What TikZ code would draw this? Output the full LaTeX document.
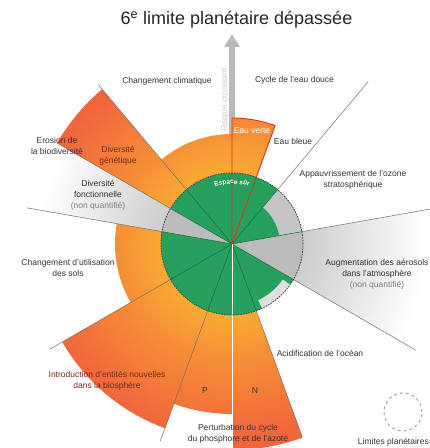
\documentclass[tikz,border=0pt]{standalone}
\usepackage{fontspec}
\setmainfont{Liberation Sans}
\usetikzlibrary{arrows.meta,calc,decorations.text}

\definecolor{pbgruen}{RGB}{38,160,92}
\definecolor{pbdunkelgruen}{RGB}{22,105,58}
\definecolor{pborange}{RGB}{249,170,52}
\definecolor{pbmitte}{RGB}{246,140,55}
\definecolor{pbrot}{RGB}{241,100,60}
\definecolor{pbrand}{RGB}{214,55,30}
\definecolor{pbgrau}{RGB}{188,188,188}
\definecolor{pbhellgrau}{RGB}{205,205,205}
\definecolor{pbtext}{RGB}{50,50,50}
\definecolor{pbbraun}{RGB}{115,40,25}
\definecolor{pbstrahl}{RGB}{125,108,98}

\pgfdeclareradialshading{pbverlauf}{\pgfpoint{0bp}{0bp}}{color(0bp)=(pborange); color(8bp)=(pborange); color(13.6bp)=(pbmitte); color(22.7bp)=(pbrot); color(50bp)=(pbrot)}
\pgfdeclareradialshading{pbgrauverlauf}{\pgfpoint{0bp}{0bp}}{color(0bp)=(pbhellgrau); color(8bp)=(pbhellgrau); color(22bp)=(white); color(50bp)=(white)}

% Keil um den Mittelpunkt C: Startwinkel, Endwinkel, Radius
\newcommand{\sektor}[3]{(C) -- ++(#1:#3) arc[start angle=#1, end angle=#2, radius=#3] -- cycle}

\begin{document}
\begin{tikzpicture}[x=1pt,y=1pt,
  beschriftung/.style={font=\fontsize{8.5}{11}\selectfont, text=pbtext, align=center, inner sep=0pt},
  strahl/.style={draw=pbstrahl, line width=0.5pt}]
\useasboundingbox (0,0) rectangle (430,448);
\clip (0,0) rectangle (430,448);
\coordinate (C) at (232,204);

% Titel
\node[font=\fontsize{18}{20}\selectfont, text=black!85] (titel) at (236.5,428) {6\textsuperscript{e} limite planétaire dépassée};

% Pfeil: Risque croissant
\draw[line width=6pt, gray!55, -{Triangle[width=15pt,length=13pt]}] (C) -- (232,414);
\node[beschriftung, text=gray!45, rotate=90] (risque) at (225,348) {Risque croissant};

% nicht quantifizierte Bereiche (grauer Verlauf)
\begin{scope}
\clip \sektor{150}{170}{210} \sektor{-30}{10}{215};
\shade[shading=pbgrauverlauf] (C) circle (220);
\end{scope}

% Keile ausserhalb der Grenze
\begin{scope}
\clip \sektor{90}{130}{110} \sektor{130}{150}{202} \sektor{170}{210}{117}
      \sektor{210}{250}{196} \sektor{250}{270}{170} \sektor{270}{290}{206}
      \sektor{70}{90}{126};
\shade[shading=pbverlauf] (C) circle (220);
\end{scope}

% sicherer Bereich
\fill[pbgruen] (C) circle (71);
\fill[pbgrau] \sektor{150}{170}{71};
\fill[pbgrau] \sektor{-30}{10}{71};
\fill[pbgrau!85] (C) ++(10:48) arc[start angle=10, end angle=50, radius=48] -- ++(50:23)
  arc[start angle=50, end angle=10, radius=71] -- cycle;
\fill[gray!25] (C) ++(-65:62) arc[start angle=-65, end angle=-35, radius=62] -- ++(-35:9)
  arc[start angle=-35, end angle=-65, radius=71] -- cycle;

% Strahlen innen
\foreach \w in {10,50,130,150,170,210,250,290,330}
  \draw[pbdunkelgruen, line width=0.5pt] (C) -- ++(\w:71);
\draw[white, line width=0.6pt] (C) -- ++(270:206);
\draw[pbrand, line width=0.9pt] \sektor{70}{90}{126};

% Strahlen aussen
\foreach \w/\r in {50/212, 10/225, -30/212, 130/208, 150/202, 170/208, 210/210, 250/210, 290/206}
  \draw[strahl] ($(C)+(\w:71)$) -- ($(C)+(\w:\r)$);

% gestrichelte Grenze
\draw[black!75, line width=0.8pt, dash pattern=on 1.5pt off 1.2pt] (C) circle (71);

% Espace sur entlang des Kreises
\path[decorate, decoration={text along path, text align=center,
  text={|\bfseries\fontsize{6.5}{7}\selectfont\color{white}|Espace sûr}}]
  ($(C)+(112:60)$) arc[start angle=112, end angle=68, radius=60];

% Beschriftungen
\node[beschriftung] (klima) at (167,367) {Changement climatique};
\node[beschriftung] (wasser) at (294.5,368) {Cycle de l'eau douce};
\node[beschriftung, text=white] (gruenwasser) at (252,317) {Eau verte};
\node[beschriftung] (blauwasser) at (293,307) {Eau bleue};
\node[beschriftung] (erosion) at (57,302.5) {Erosion de\\la biodiversité};
\node[beschriftung, text=pbbraun] (genetisch) at (118,292) {Diversité\\génétique};
\node[beschriftung] (funktionell) at (98,252.5) {Diversité\\fonctionnelle\\{\color{gray}(non quantifié)}};
\node[beschriftung] (boden) at (68,180.5) {Changement d'utilisation\\des sols};
\node[beschriftung, text=pbbraun] (entitaeten) at (107,67.5) {Introduction d'entités nouvelles\\dans la biosphère};
\node[beschriftung] (phosphor) at (205,57) {P};
\node[beschriftung] (stickstoff) at (255,57) {N};
\node[beschriftung] (kreislauf) at (238,14.5) {Perturbation du cycle\\du phosphore et de l'azote};
\node[beschriftung] (ozon) at (353,268) {Appauvrissement de l'ozone\\stratosphérique};
\node[beschriftung] (aerosole) at (377,173.5) {Augmentation des aérosols\\dans l'atmosphère\\{\color{gray}(non quantifié)}};
\node[beschriftung] (ozean) at (320,95) {Acidification de l'océan};

% Legende
\draw[gray!70, line width=1pt, dash pattern=on 3pt off 3pt] (403,36) circle (19);
\node[beschriftung, anchor=south east] (legende) at (429,2) {Limites planétaires};
\end{tikzpicture}
\end{document}
